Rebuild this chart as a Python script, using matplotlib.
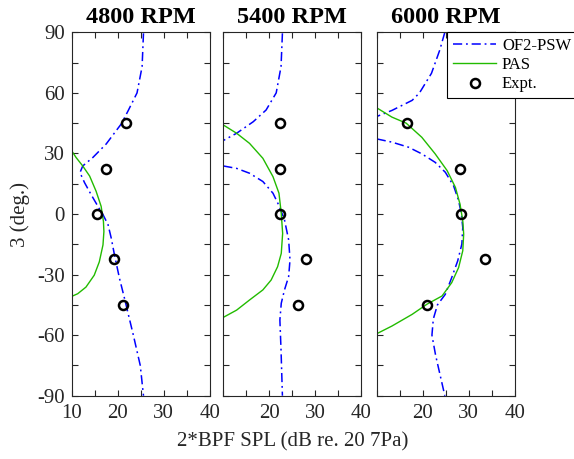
import matplotlib
matplotlib.use("Agg")
import matplotlib.pyplot as plt
from matplotlib.ticker import MultipleLocator, FixedLocator

plt.rcParams['font.family'] = ['Liberation Serif', 'DejaVu Serif']

titles = ["4800 RPM", "5400 RPM", "6000 RPM"]

# Experimental directivity (polar angle in degrees, SPL in dB)
expt_theta = [45, 22.5, 0, -22.5, -45]
expt_spl_4800 = [21.9, 17.5, 15.5, 19.1, 21.2]
expt_spl_5400 = [22.4, 22.3, 22.3, 27.9, 26.3]
expt_spl_6000 = [16.6, 28.0, 28.3, 33.6, 21.0]

# PAS predictions
pas_theta_4800 = [31.3, 28, 23.8, 18.8, 11.3, 3.8, -3.7, -8.7, -15.3, -23.7, -30.3, -36.2, -39.5, -40.8]
pas_spl_4800 = [10.0, 10.95, 12.4, 13.9, 15.3, 16.4, 16.9, 17.0, 16.8, 16.0, 14.9, 13.1, 11.3, 10.0]
pas_theta_5400 = [44.1, 40, 35, 27.6, 18.5, 10.3, 0.3, -9.6, -19.5, -26.1, -32.7, -37.6, -42.6, -47.6, -51.2]
pas_spl_5400 = [10.0, 12.9, 15.7, 18.6, 20.8, 22.1, 22.6, 22.9, 22.6, 21.8, 20.4, 18.6, 15.7, 12.9, 10.0]
pas_theta_6000 = [52.6, 48, 45, 38, 29.8, 21.5, 13.2, 4.9, -3.3, -10, -18.2, -26.5, -34, -40.6, -44.7, -49.7, -55.5, -59.3]
pas_spl_6000 = [10.0, 13.3, 16.4, 19.8, 22.7, 25.3, 27.1, 28.1, 28.7, 28.9, 28.7, 27.8, 26.3, 24.2, 20.9, 17.7, 13.3, 10.0]

# OF2-PSW predictions (upper and lower lobes)
of2_theta_4800 = [89.5, 73, 60, 51.3, 44.7, 34.7, 28, 23.8, 20.5, 15.5, 9.7, 3.8, -0.3, -5.3, -12, -20.3, -32, -42, -48.7, -60, -75, -90]
of2_spl_4800 = [25.6, 25.3, 24.2, 22.3, 20.8, 17.5, 14.6, 12.4, 11.8, 12.8, 14.2, 15.7, 16.8, 17.9, 18.6, 19.3, 20.4, 21.5, 22.2, 23.4, 24.9, 25.6]

of2_top_theta_5400 = [89.5, 73, 60, 51.5, 45.7, 40, 36.4]
of2_top_spl_5400 = [22.85, 22.55, 21.5, 19.3, 16.5, 12.9, 10.0]
of2_bot_theta_5400 = [23.8, 22.6, 20.2, 16.1, 10.3, 3.7, -2.9, -12.8, -22.7, -31, -37.6, -44.2, -52.5, -67.4, -90]
of2_bot_spl_5400 = [10.0, 12.9, 15.7, 18.6, 20.8, 22.2, 23.3, 24.2, 24.5, 24.2, 23.3, 22.6, 22.3, 22.55, 22.85]

of2_top_theta_6000 = [90, 81.2, 69.7, 60, 56.3, 51.3, 48.3]
of2_top_spl_6000 = [24.8, 23.7, 21.9, 19.3, 17.7, 13.3, 10.0]
of2_bot_theta_6000 = [37.2, 35.6, 33.1, 29.8, 25.6, 20.7, 14, 6.6, 0, -6.7, -14.9, -23.2, -31.5, -39.8, -45, -52, -60, -70, -80, -90]
of2_bot_spl_6000 = [10.0, 13.3, 16.9, 19.8, 22.7, 24.9, 26.7, 27.8, 28.4, 28.7, 28.5, 27.6, 26.3, 24.9, 23.2, 22.3, 22.0, 22.8, 23.8, 24.8]

x_ticks = [10, 20, 30, 40]
y_ticks = [-90, -60, -30, 0, 30, 60, 90]

blue = '#0000ff'
green = '#22bb00'
spine_col = '#262626'

fig = plt.figure(figsize=(5.74, 4.59), dpi=100)
lefts = [0.1249, 0.3890, 0.6563]
bottom, height, width = 0.1379, 0.7917, 0.2405

of2_sets = [
    [(of2_spl_4800, of2_theta_4800)],
    [(of2_top_spl_5400, of2_top_theta_5400), (of2_bot_spl_5400, of2_bot_theta_5400)],
    [(of2_top_spl_6000, of2_top_theta_6000), (of2_bot_spl_6000, of2_bot_theta_6000)],
]
pas_sets = [(pas_spl_4800, pas_theta_4800), (pas_spl_5400, pas_theta_5400), (pas_spl_6000, pas_theta_6000)]
expt_sets = [expt_spl_4800, expt_spl_5400, expt_spl_6000]

handles = None
for i in range(3):
    ax = fig.add_axes([lefts[i], bottom, width, height])
    lo = None
    for xs, ys in of2_sets[i]:
        lo, = ax.plot(xs, ys, color=blue, lw=1.1, linestyle=(0, (6, 2.5, 1.2, 2.5)),
                      solid_joinstyle='round', label='OF2-PSW')
    lp, = ax.plot(pas_sets[i][0], pas_sets[i][1], color=green, lw=1.0,
                  solid_joinstyle='round', label='PAS')
    le, = ax.plot(expt_sets[i], expt_theta, 'o', mfc='none', mec='black', mew=1.8, ms=6.5,
                  linestyle='none', label='Expt.')
    handles = [lo, lp, le]

    ax.set_xlim(10, 40)
    ax.set_ylim(-90, 90)
    ax.set_xticks(x_ticks)
    ax.xaxis.set_minor_locator(FixedLocator([15, 25, 35]))
    ax.set_yticks(y_ticks)
    ax.yaxis.set_minor_locator(MultipleLocator(15))
    ax.tick_params(which='both', direction='in', top=True, right=True, length=4,
                   width=0.8, color=spine_col, labelsize=15, labelcolor=spine_col)
    ax.tick_params(axis='x', pad=6)
    ax.tick_params(axis='y', pad=5)
    for s in ax.spines.values():
        s.set_color(spine_col)
        s.set_linewidth(0.8)
    if i == 0:
        ax.set_xticklabels([str(v) for v in x_ticks])
        ax.set_yticklabels([str(v) for v in y_ticks])
        ax.set_ylabel('3 (deg.)', fontsize=15, color=spine_col, labelpad=5)
    else:
        ax.set_xticklabels([''] + [str(v) for v in x_ticks[1:]])
        ax.set_yticklabels([])
    ax.set_title(titles[i], fontsize=17.5, fontweight='bold', pad=7)

fig.text(0.51, 0.037, '2*BPF SPL (dB re. 20 7Pa)', ha='center', va='center',
         fontsize=15, color=spine_col)

leg = fig.legend(handles, ['OF2-PSW', 'PAS', 'Expt.'], loc='upper left',
                 bbox_to_anchor=(447 / 574, 1 - 32 / 459), borderaxespad=0,
                 fontsize=12, handlelength=2.6, handletextpad=0.35, labelspacing=0.2,
                 borderpad=0.35, fancybox=False, framealpha=1, edgecolor='black')
leg.get_frame().set_linewidth(0.8)

fig.savefig('out.png', dpi=100)
